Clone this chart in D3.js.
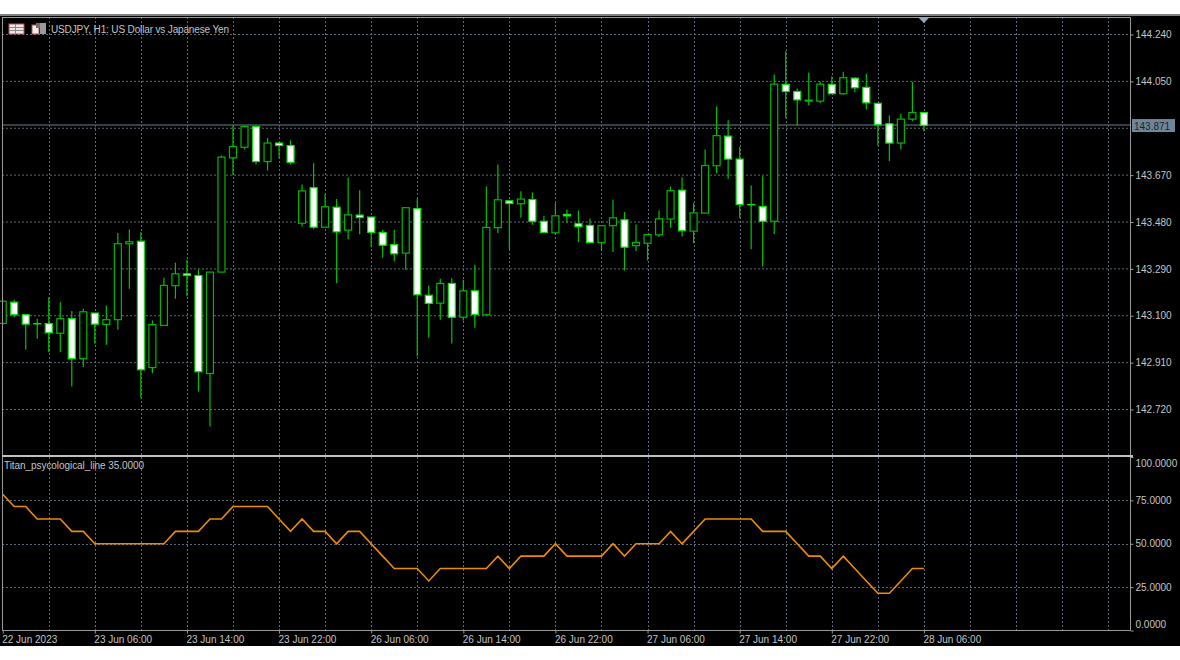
<!DOCTYPE html>
<html><head><meta charset="utf-8">
<script src="https://cdn.jsdelivr.net/npm/d3@7/dist/d3.min.js"></script>
<style>html,body{margin:0;padding:0;background:#fff;overflow:hidden}svg{display:block}text{font-family:"Liberation Sans",sans-serif}</style>
</head><body><div id="chart"></div>
<script>
const opens=[143.069,143.155,143.104,143.068,143.068,143.029,143.088,142.926,143.111,143.065,143.084,143.392,143.402,142.890,143.061,143.222,143.270,143.263,142.866,143.277,143.740,143.783,143.867,143.725,143.800,143.790,143.475,143.619,143.459,143.540,143.447,143.508,143.500,143.438,143.388,143.354,143.534,143.183,143.151,143.231,143.094,143.201,143.104,143.457,143.566,143.554,143.571,143.483,143.436,143.511,143.473,143.466,143.396,143.465,143.489,143.384,143.394,143.428,143.492,143.609,143.443,143.516,143.708,143.828,143.735,143.551,143.543,143.483,144.038,144.009,143.970,143.970,144.038,144.000,144.063,144.026,143.961,143.878,143.800,143.897,143.924];
const highs=[143.162,143.165,143.104,143.088,143.175,143.155,143.119,143.128,143.111,143.142,143.435,143.450,143.438,143.081,143.254,143.315,143.327,143.288,143.277,143.750,143.871,143.871,143.871,143.821,143.804,143.811,143.632,143.718,143.595,143.573,143.659,143.609,143.500,143.449,143.449,143.540,143.573,143.223,143.250,143.252,143.246,143.307,143.624,143.713,143.566,143.605,143.600,143.505,143.556,143.530,143.527,143.494,143.466,143.571,143.520,143.470,143.429,143.527,143.624,143.661,143.558,143.774,143.948,143.892,143.785,143.628,143.665,144.078,144.172,144.021,144.086,144.048,144.070,144.089,144.067,144.081,143.961,143.912,143.919,144.048,143.924];
const lows=[143.065,143.094,142.962,143.007,142.952,142.952,142.813,142.892,142.987,142.982,143.043,143.209,142.768,142.867,143.059,143.169,143.179,142.793,142.651,143.277,143.671,143.775,143.713,143.689,143.738,143.713,143.462,143.451,143.459,143.232,143.410,143.430,143.378,143.335,143.321,143.285,142.935,143.011,143.084,142.988,143.081,143.051,143.101,143.435,143.370,143.497,143.469,143.435,143.430,143.477,143.398,143.394,143.362,143.358,143.284,143.362,143.324,143.419,143.457,143.421,143.394,143.516,143.678,143.654,143.496,143.370,143.300,143.431,143.901,143.872,143.952,143.962,144.000,143.996,144.006,143.937,143.790,143.727,143.775,143.889,143.847];
const closes=[143.159,143.104,143.066,143.067,143.031,143.088,142.926,143.116,143.066,143.084,143.392,143.400,142.881,143.064,143.223,143.270,143.263,142.873,143.277,143.743,143.786,143.867,143.725,143.800,143.790,143.722,143.606,143.459,143.542,143.440,143.509,143.498,143.438,143.386,143.351,143.538,143.185,143.150,143.231,143.094,143.201,143.105,143.458,143.570,143.555,143.573,143.483,143.438,143.505,143.505,143.461,143.397,143.465,143.497,143.378,143.397,143.429,143.493,143.607,143.445,143.517,143.709,143.830,143.735,143.551,143.550,143.483,144.039,144.009,143.975,143.974,144.039,144.000,144.065,144.024,143.963,143.874,143.800,143.897,143.924,143.872];
const psyLine=[78.57,71.43,71.43,64.29,64.29,64.29,57.14,57.14,50,50,50,50,50,50,50,57.14,57.14,57.14,64.29,64.29,71.43,71.43,71.43,71.43,64.29,57.14,64.29,57.14,57.14,50,57.14,57.14,50,42.86,35.71,35.71,35.71,28.57,35.71,35.71,35.71,35.71,35.71,42.86,35.71,42.86,42.86,42.86,50,42.86,42.86,42.86,42.86,50,42.86,50,50,50,57.14,50,57.14,64.29,64.29,64.29,64.29,64.29,57.14,57.14,57.14,50,42.86,42.86,35.71,42.86,35.71,28.57,21.43,21.43,28.57,35.71,35.71];
const priceTicks=[144.24,144.05,143.67,143.48,143.29,143.10,142.91,142.72];
const priceGrid=[144.24,144.05,143.86,143.67,143.48,143.29,143.10,142.91,142.72];
const psyTicks=[100,75,50,25,0];
const timeIndex=[0,8,16,24,32,40,48,56,64,72,80];
const timeLabels=["22 Jun 2023","23 Jun 06:00","23 Jun 14:00","23 Jun 22:00","26 Jun 06:00","26 Jun 14:00","26 Jun 22:00","27 Jun 06:00","27 Jun 14:00","27 Jun 22:00","28 Jun 06:00"];
const gridIndex=d3.range(4,97,4);
const currentPrice=143.871;
const titleText="USDJPY, H1:  US Dollar vs Japanese Yen";
const indicatorText="Titan_psycological_line 35.0000";

const W=1180,H=660,L=2,R=1130,T=17,SEP=456,B=630;
const x=d3.scaleLinear().domain([0,80]).range([2.7,923.9]);
const y=d3.scaleLinear().domain([144.24,142.72]).range([34.5,409.5]);
const yp=d3.scaleLinear().domain([100,0]).range([457,630.5]);
const svg=d3.select("#chart").append("svg").attr("width",W).attr("height",H);
svg.append("rect").attr("width",W).attr("height",H).attr("fill","#fff");
svg.append("rect").attr("y",14).attr("width",W).attr("height",632).attr("fill","#000");
svg.append("rect").attr("y",14).attr("width",W).attr("height",2).attr("fill","#808080");

const GRID="#5c6b79";
const g=svg.append("g");
g.selectAll("line.v").data(gridIndex).join("line").attr("class","v")
 .attr("x1",d=>Math.round(x(d))+.5).attr("x2",d=>Math.round(x(d))+.5).attr("y1",T).attr("y2",B)
 .attr("stroke",GRID).attr("stroke-dasharray","2 2");
g.selectAll("line.h").data(priceGrid).join("line").attr("class","h")
 .attr("x1",L).attr("x2",R).attr("y1",d=>y(d)).attr("y2",d=>y(d))
 .attr("stroke",GRID).attr("stroke-dasharray","2 2");
g.selectAll("line.hp").data(psyTicks.slice(1,4)).join("line").attr("class","hp")
 .attr("x1",L).attr("x2",R).attr("y1",d=>Math.round(yp(d))+.5).attr("y2",d=>Math.round(yp(d))+.5)
 .attr("stroke",GRID).attr("stroke-dasharray","2 2");

// current price line
svg.append("line").attr("x1",L).attr("x2",R).attr("y1",y(currentPrice)-.5).attr("y2",y(currentPrice)-.5).attr("stroke","#4a555f").attr("stroke-width",1.6);

// candles
const idx=d3.range(opens.length);
const c=svg.append("g");
c.selectAll("line.w").data(idx).join("line").attr("class","w")
 .attr("x1",i=>x(i)).attr("x2",i=>x(i)).attr("y1",i=>y(highs[i])).attr("y2",i=>y(lows[i]))
 .attr("stroke","#00c400").attr("stroke-width",1.2);
c.selectAll("rect").data(idx).join("rect")
 .attr("x",i=>x(i)-3.5).attr("width",7)
 .attr("y",i=>y(Math.max(opens[i],closes[i])))
 .attr("height",i=>Math.abs(y(opens[i])-y(closes[i])))
 .attr("fill",i=>closes[i]<opens[i]?"#fff":"#000")
 .attr("stroke",i=>closes[i]<opens[i]?"#00e800":"#00b800").attr("stroke-width",1.2);

// indicator
svg.append("path").attr("d",d3.line().x((d,i)=>x(i)).y(d=>yp(d))(psyLine))
 .attr("fill","none").attr("stroke","#ec8b08").attr("stroke-width",1.6);

// frame
const frame="#9a9a9a";
svg.append("path").attr("d",`M${L+.5},${T}V${B+.5}H${R+.5}V${T+.5}H${L}`).attr("fill","none").attr("stroke",frame);
svg.append("rect").attr("x",L).attr("y",SEP-1).attr("width",R-L+3).attr("height",2).attr("fill","#c0c0c0");

// axes
const txt="#c4c4c4";
const ay=svg.append("g").attr("transform",`translate(${R+.5},0)`).call(d3.axisRight(y).tickValues(priceTicks).tickFormat(d3.format(".3f")).tickSize(3).tickPadding(2));
const ayp=svg.append("g").attr("transform",`translate(${R+.5},0)`).call(d3.axisRight(yp).tickValues(psyTicks).tickFormat(d3.format(".4f")).tickSize(3).tickPadding(2));
ayp.selectAll(".tick text").attr("dy",d=>d===100?"9":(d===0?"-3":".32em"));
const ax=svg.append("g").attr("transform",`translate(0,${B+.5})`).call(d3.axisBottom(x).tickValues(timeIndex).tickFormat((d,i)=>timeLabels[i]).tickSize(3).tickPadding(2));
ax.selectAll(".tick text").attr("text-anchor","start").attr("dx",-1);
[ay,ayp,ax].forEach(a=>{a.select(".domain").remove();a.selectAll(".tick line").attr("stroke",frame);a.selectAll(".tick text").attr("fill",txt).attr("font-size",10).attr("font-family","Liberation Sans");});

// current price badge
const cp=y(currentPrice);
svg.append("rect").attr("x",R+2).attr("y",cp-6.5).attr("width",43).attr("height",13).attr("fill","#6f8598");
svg.append("text").attr("x",R+4).attr("y",cp+4).attr("font-size",10).attr("fill","#1c242c").text(currentPrice.toFixed(3));

// top marker
svg.append("path").attr("d",d3.line()([[x(80)-6,T],[x(80)+6,T],[x(80),T+6]])).attr("fill","#8fa9bf");

// title + icons
svg.append("text").attr("x",51).attr("y",33).attr("font-size",10).attr("fill",txt).attr("textLength",178).attr("lengthAdjust","spacing").text(titleText);
svg.append("text").attr("x",4).attr("y",469).attr("font-size",10).attr("fill",txt).attr("textLength",140).attr("lengthAdjust","spacing").text(indicatorText);
const ic=svg.append("g");
ic.append("rect").attr("x",9).attr("y",24).attr("width",15).attr("height",10).attr("fill","#e8e8e8").attr("stroke","#c0504d");
[27,30].forEach(v=>ic.append("line").attr("x1",9).attr("x2",24).attr("y1",v+.5).attr("y2",v+.5).attr("stroke","#8a8a8a"));
ic.append("line").attr("x1",15.5).attr("x2",15.5).attr("y1",24).attr("y2",34).attr("stroke","#8a8a8a");
ic.append("rect").attr("x",32).attr("y",25).attr("width",7).attr("height",9).attr("fill","#f0f0f0").attr("stroke","#c0504d");
ic.append("rect").attr("x",40).attr("y",23).attr("width",6).attr("height",11).attr("fill","#9a9a9a");
ic.append("rect").attr("x",36).attr("y",23).attr("width",4).attr("height",5).attr("fill","#707070");
</script></body></html>
